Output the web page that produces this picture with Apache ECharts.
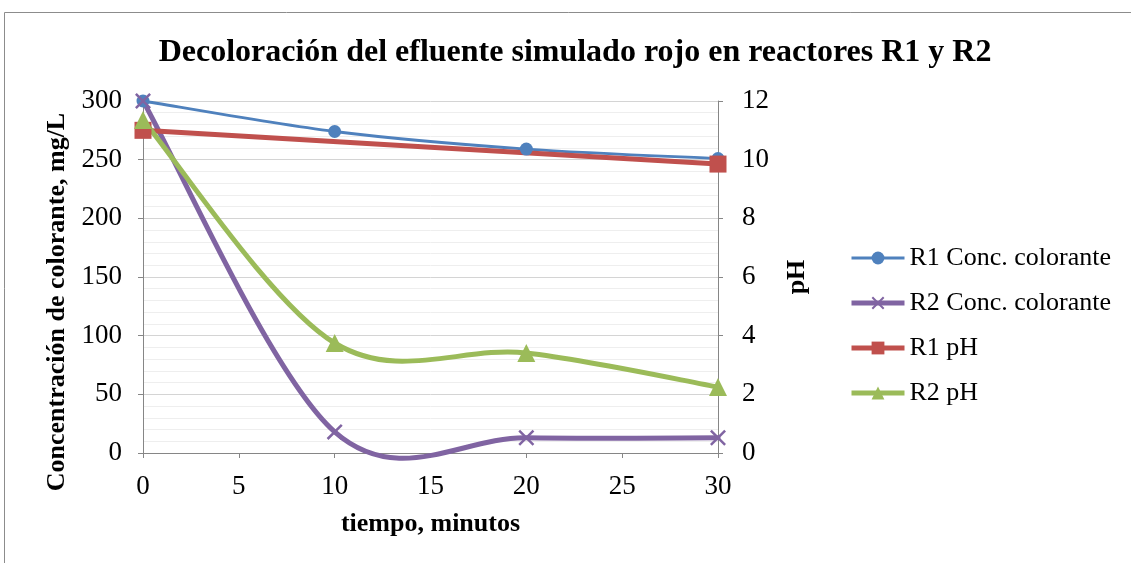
<!DOCTYPE html>
<html>
<head>
<meta charset="utf-8">
<script src="https://cdn.jsdelivr.net/npm/echarts@6/dist/echarts.min.js"></script>
<style>html,body{margin:0;padding:0;background:#fff}#c{width:1131px;height:563px}</style>
</head>
<body>
<div id="c"></div>
<script>
var time = [0, 10, 20, 30];
var r1Conc = [300, 274, 259, 251];
var r2Conc = [300, 18, 13, 13];
var r1PhTime = [0, 30];
var r1Ph = [11.0, 9.85];
var r2Ph = [11.35, 3.75, 3.41, 2.25];
var seriesNames = ['R1 Conc. colorante', 'R2 Conc. colorante', 'R1 pH', 'R2 pH'];
var colors = ['#4F81BD', '#8064A2', '#C0504D', '#9BBB59'];
var widths = [2.8, 5, 5, 5];

function pairs(xs, ys) { return xs.map(function (x, i) { return [x, ys[i]]; }); }

var FONT = 'Liberation Serif';
var xShape = 'path://M0,1.1 L1.1,0 L10,8.9 L8.9,10 Z M8.9,0 L10,1.1 L1.1,10 L0,8.9 Z';

// Excel-style smoothed curve: cubic Bezier through data points mapped by the axis scales
function curveSeries(xs, ys, yAxisIndex, color, width) {
  return {
    type: 'custom', yAxisIndex: yAxisIndex, silent: true, clip: false,
    data: pairs(xs, ys), encode: { x: 0, y: 1 },
    renderItem: function (params, api) {
      if (params.dataIndex !== 0) return null;
      var p = xs.map(function (x, i) { return api.coord([x, ys[i]]); });
      var n = p.length;
      var d = 'M' + p[0][0] + ',' + p[0][1];
      for (var i = 0; i < n - 1; i++) {
        var a = p[Math.max(i - 1, 0)], b = p[i], c = p[i + 1], e = p[Math.min(i + 2, n - 1)];
        var c1x = b[0] + (c[0] - a[0]) / 6, c1y = b[1] + (c[1] - a[1]) / 6;
        var c2x = c[0] - (e[0] - b[0]) / 6, c2y = c[1] - (e[1] - b[1]) / 6;
        d += ' C' + c1x + ',' + c1y + ' ' + c2x + ',' + c2y + ' ' + c[0] + ',' + c[1];
      }
      return {
        type: 'path', shape: { pathData: d },
        style: { fill: 'none', stroke: color, lineWidth: width, lineJoin: 'round', lineCap: 'round' }
      };
    }
  };
}

function markerSeries(idx, xs, ys, yAxisIndex, symbol, size) {
  return {
    name: seriesNames[idx], type: 'line', yAxisIndex: yAxisIndex, clip: false,
    data: pairs(xs, ys), symbol: symbol, symbolSize: size,
    lineStyle: { color: colors[idx], width: widths[idx], opacity: 0 },
    itemStyle: { color: colors[idx] }
  };
}

var chart = echarts.init(document.getElementById('c'));
chart.setOption({
  animation: false,
  backgroundColor: '#fff',
  graphic: [{
    type: 'rect', shape: { x: 4.5, y: 12.5, width: 1300, height: 700 },
    style: { fill: 'none', stroke: '#8c8c8c', lineWidth: 1 }, silent: true, z: -10
  }],
  title: {
    text: 'Decoloración del efluente simulado rojo en reactores R1 y R2',
    left: 570, textAlign: 'center', top: 32,
    textStyle: { fontFamily: FONT, fontWeight: 'bold', fontSize: 32, color: '#000' }
  },
  legend: {
    orient: 'vertical', left: 844, top: 240,
    itemWidth: 53, itemHeight: 16, itemGap: 19,
    textStyle: { fontFamily: FONT, fontSize: 26, color: '#000' },
    data: seriesNames.map(function (nm, i) {
      return { name: nm, lineStyle: { color: colors[i], width: widths[i], opacity: 1 } };
    })
  },
  grid: { left: 143, right: 413, top: 101, bottom: 110 },
  xAxis: {
    type: 'value', min: 0, max: 30, interval: 5,
    name: 'tiempo, minutos', nameLocation: 'middle', nameGap: 58,
    nameTextStyle: { fontFamily: FONT, fontWeight: 'bold', fontSize: 26, color: '#000' },
    axisLine: { show: true, lineStyle: { color: '#868686', width: 1 } },
    axisTick: { show: true, length: 5, lineStyle: { color: '#868686' } },
    axisLabel: { fontFamily: FONT, fontSize: 27, color: '#000', margin: 20 },
    splitLine: { show: false }
  },
  yAxis: [{
    type: 'value', min: 0, max: 300, interval: 50, position: 'left',
    name: 'Concentración de colorante, mg/L', nameLocation: 'middle', nameGap: 70, nameRotate: 90,
    nameTextStyle: { fontFamily: FONT, fontWeight: 'bold', fontSize: 26, color: '#000', padding: [0, 50, 0, 0] },
    axisLine: { show: true, lineStyle: { color: '#868686', width: 1 } },
    axisTick: { show: true, length: 5, lineStyle: { color: '#868686' } },
    axisLabel: { fontFamily: FONT, fontSize: 27, color: '#000', margin: 21 },
    splitLine: { show: true, lineStyle: { color: '#d4d4d4', width: 1 } },
    minorTick: { show: false, splitNumber: 5 },
    minorSplitLine: { show: true, lineStyle: { color: '#eeeeee', width: 1 } }
  }, {
    type: 'value', min: 0, max: 12, interval: 2, position: 'right',
    name: 'pH', nameLocation: 'middle', nameGap: 66, nameRotate: 90,
    nameTextStyle: { fontFamily: FONT, fontWeight: 'bold', fontSize: 26, color: '#000' },
    axisLine: { show: true, lineStyle: { color: '#868686', width: 1 } },
    axisTick: { show: true, length: 5, lineStyle: { color: '#868686' } },
    axisLabel: { fontFamily: FONT, fontSize: 27, color: '#000', margin: 24 },
    splitLine: { show: false }
  }],
  series: [
    curveSeries(time, r1Conc, 0, colors[0], widths[0]),
    curveSeries(time, r2Conc, 0, colors[1], widths[1]),
    curveSeries(r1PhTime, r1Ph, 1, colors[2], widths[2]),
    curveSeries(time, r2Ph, 1, colors[3], widths[3]),
    markerSeries(0, time, r1Conc, 0, 'circle', 13),
    markerSeries(1, time, r2Conc, 0, xShape, 16),
    markerSeries(2, r1PhTime, r1Ph, 1, 'rect', 17),
    markerSeries(3, time, r2Ph, 1, 'triangle', 18)
  ]
});
</script>
</body>
</html>
